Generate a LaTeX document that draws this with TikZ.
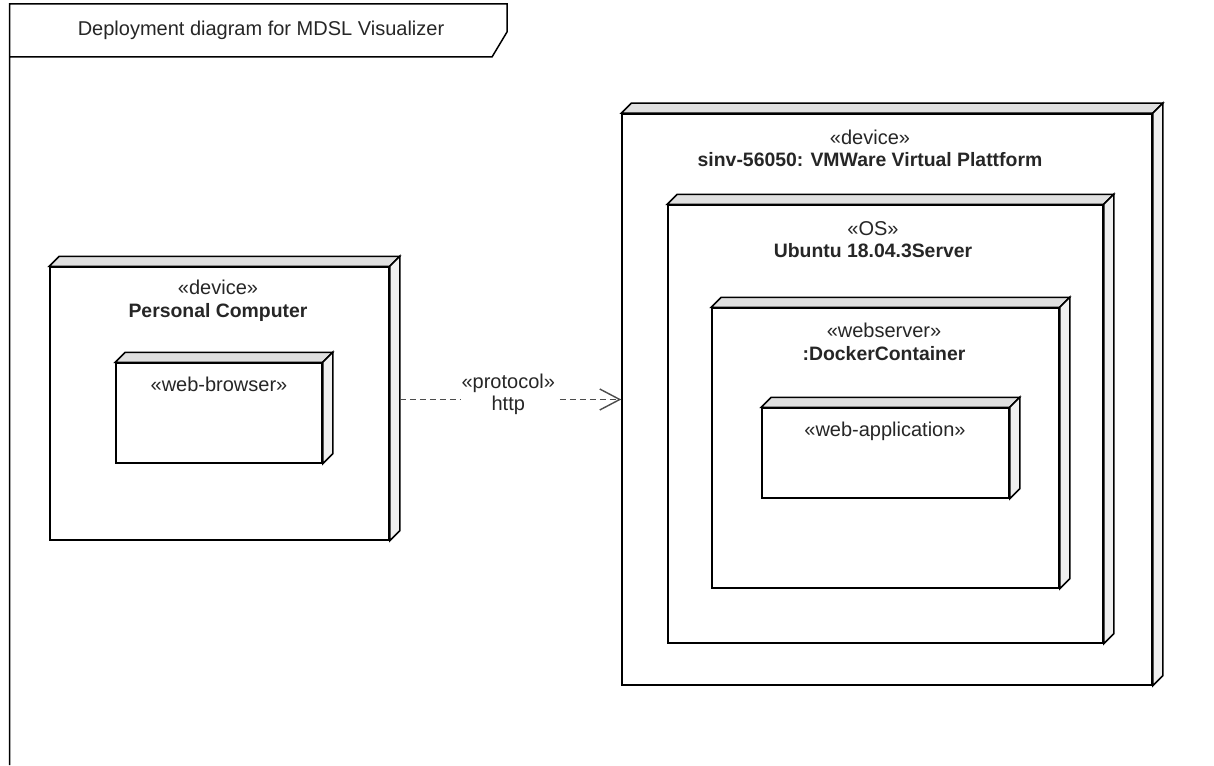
\documentclass[tikz,border=0pt]{standalone}
\usepackage{fontspec}
\setmainfont{Liberation Sans}
\usetikzlibrary{arrows.meta,fit}

\tikzset{
  outline/.style={draw=black, line width=1.5pt},
  nodebox/.style={outline, fill=white, inner sep=0pt},
  topface/.style={outline, fill=black!12},
  sideface/.style={outline, fill=black!6},
  txt/.style={font=\fontsize{20}{22.5}\selectfont, align=center, inner sep=1pt, text=black!85},
  depline/.style={draw=black!70, line width=1.4pt, dash pattern=on 6pt off 4pt,
                  -{Straight Barb[length=20pt,width=21pt,line width=1.4pt]}},
}

% bold element name under a stereotype
\newcommand\elname[1]{{\fontsize{19.4}{22.5}\selectfont\bfseries #1}}

% raised top and side faces of a 3-D node box
\newcommand\boxfaces[1]{%
  \filldraw[topface] (#1.north west) -- ++(10,-10)
     -- ([shift={(10,-10)}]#1.north east) -- (#1.north east) -- cycle;
  \filldraw[sideface] (#1.north east) -- ++(10,-10)
     -- ([shift={(10,-10)}]#1.south east) -- (#1.south east) -- cycle;
}

\begin{document}
\begin{tikzpicture}[x=1pt,y=-1pt]
\useasboundingbox[fill=white] (0,0) rectangle (1214,765);

% diagram frame with its name tab
\draw[outline] (9.5,765) -- (9.5,4) -- (507,4) -- (507,32) -- (492,57) -- (9.5,57);
\node[txt] (title) at (261,30) {Deployment diagram for MDSL Visualizer};

% client side
\node[nodebox, fit={(50,267) (389,540)}] (pc) {};
\boxfaces{pc}
\node[txt] (pc-t) at (218,301) {«device»\\\elname{Personal Computer}};

\node[nodebox, fit={(116,363) (322,463)}] (browser) {};
\boxfaces{browser}
\node[txt] (browser-t) at (219,384) {«web-browser»};

% server side
\node[nodebox, fit={(622,114) (1152,685)}] (vm) {};
\boxfaces{vm}
\node[txt] (vm-t) at (870,148.5) {«device»\\\elname{sinv-56050: VMWare Virtual Plattform}};

\node[nodebox, fit={(668,205) (1103,643)}] (os) {};
\boxfaces{os}
\node[txt] (os-t) at (873,239.5) {«OS»\\\elname{Ubuntu 18.04.3Server}};

\node[nodebox, fit={(712,308) (1059,588)}] (docker) {};
\boxfaces{docker}
\node[txt] (docker-t) at (884,342) {«webserver»\\\elname{:DockerContainer}};

\node[nodebox, fit={(762,408) (1009,498)}] (webapp) {};
\boxfaces{webapp}
\node[txt] (webapp-t) at (885,431) {«web-application»};

% communication path
\draw[depline] ([xshift=10pt]pc.east |- vm.west) -- (vm.west)
  node[txt, pos=0.49, fill=white, yshift=5pt] (proto) {«protocol»\\http};
\end{tikzpicture}
\end{document}
